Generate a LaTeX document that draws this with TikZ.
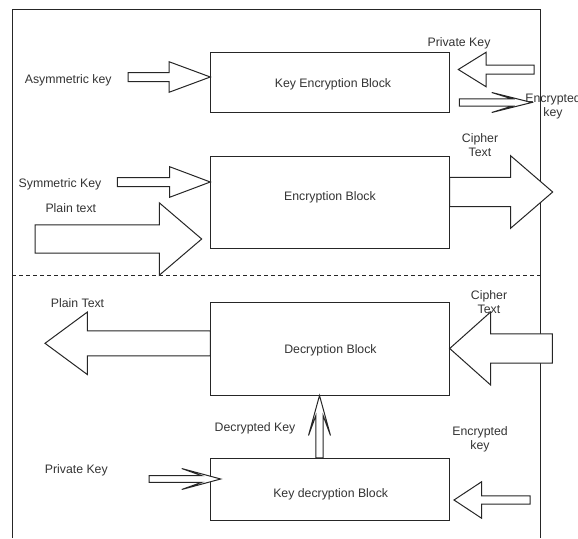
\documentclass[tikz,border=0pt]{standalone}
\usepackage{fontspec}
\setmainfont{Liberation Sans}
\usetikzlibrary{calc}

% Block arrow from tail #1 to tip #2:
% #3 shaft half width, #4 head half width, #5 head length,
% #6 distance from the tip at which the shaft meets the head
% (equal to #5 for a plain head, shorter for a swept-back head).
\newcommand\fatarrow[6]{%
  \coordinate (fa-neck) at ($(#2)!#6!(#1)$);
  \coordinate (fa-back) at ($(#2)!#5!(#1)$);
  \filldraw[arrowbody]
    ($(#1)!#3!90:(#2)$) --
    ($(fa-neck)!#3!90:(#2)$) --
    ($(fa-back)!#4!90:(#2)$) --
    (#2) --
    ($(fa-back)!#4!-90:(#2)$) --
    ($(fa-neck)!#3!-90:(#2)$) --
    ($(#1)!#3!-90:(#2)$) -- cycle;
}

\begin{document}
\begin{tikzpicture}[
  x=1pt, y=-1pt,
  outline/.style={draw=black!85, line width=1pt},
  box/.style={outline, rectangle, fill=white, inner sep=0pt, minimum width=238.4pt},
  arrowbody/.style={outline, fill=white},
  lbl/.style={text=black!80, font=\fontsize{12.3pt}{14.5pt}\selectfont, inner sep=0pt, align=center},
  oneline/.style={text height=8.8pt, text depth=0pt}
]
\useasboundingbox (0,0) rectangle (578,538);

% outer frame, open at the bottom
\draw[outline] (12,538) -- (12,9) -- (540,9) -- (540,538);
% separator between encryption and decryption halves
\draw[outline, dash pattern=on 4pt off 3pt] (12,275) -- (540,275);

% processing blocks
\node[box, minimum height=60pt]   (keb) at (330,82)    {};
\node[box, minimum height=92pt]   (eb)  at (330,202)   {};
\node[box, minimum height=93pt]   (db)  at (330,348.5) {};
\node[box, minimum height=61.7pt] (kdb) at (330,489.2) {};

% arrow ends
\coordinate (asymTail) at (128.2,77);
\coordinate (asymTip)  at ($(keb.west)+(0,-5)$);
\coordinate (pkTail)   at (534,69.5);
\coordinate (pkTip)    at (458.3,69.5);
\coordinate (ekTail)   at (459.3,102.5);
\coordinate (ekTip)    at (531.7,102.5);
\coordinate (symTail)  at (117.3,182);
\coordinate (symTip)   at ($(eb.west)+(0,-20)$);
\coordinate (ptTail)   at (35,239);
\coordinate (ptTip)    at (201.7,239);
\coordinate (ctTail)   at ($(eb.east)+(0,-10)$);
\coordinate (ctTip)    at (552.7,192);
\coordinate (poTail)   at ($(db.west)+(0,-5.2)$);
\coordinate (poTip)    at (45,343.3);
\coordinate (ciTail)   at (552.3,348.5);
\coordinate (ciTip)    at (db.east);
\coordinate (dkTail)   at ($(kdb.north)+(-10.5,0)$);
\coordinate (dkTip)    at ($(db.south)+(-10.5,0)$);
\coordinate (pk2Tail)  at (149,479);
\coordinate (pk2Tip)   at (220.7,479);
\coordinate (ek2Tail)  at (530,500);
\coordinate (ek2Tip)   at (454,500);

% block arrows
\fatarrow{asymTail}{asymTip}{4.5pt}{15.3pt}{41.3pt}{41.3pt}
\fatarrow{pkTail}{pkTip}{4.5pt}{17.2pt}{27.7pt}{27.7pt}
\fatarrow{ekTail}{ekTip}{3.7pt}{10pt}{40pt}{20pt}
\fatarrow{symTail}{symTip}{4.5pt}{15.3pt}{40.7pt}{40.7pt}
\fatarrow{ptTail}{ptTip}{14.2pt}{36.2pt}{42.4pt}{42.4pt}
\fatarrow{ctTail}{ctTip}{14.7pt}{36.2pt}{42pt}{42pt}
\fatarrow{poTail}{poTip}{12.5pt}{31.2pt}{42.3pt}{42.3pt}
\fatarrow{ciTail}{ciTip}{14.7pt}{36.4pt}{40.8pt}{40.8pt}
\fatarrow{dkTail}{dkTip}{3.6pt}{11pt}{40pt}{20pt}
\fatarrow{pk2Tail}{pk2Tip}{3.3pt}{10.5pt}{39pt}{19pt}
\fatarrow{ek2Tail}{ek2Tip}{4.2pt}{18.3pt}{27.7pt}{27.7pt}

% block titles
\node[lbl, oneline] (kebT) at ($(keb)+(3,1)$)      {Key Encryption Block};
\node[lbl, oneline] (ebT)  at ($(eb)+(0,-6.3)$)    {Encryption Block};
\node[lbl, oneline] (dbT)  at ($(db)+(0.5,0.5)$)   {Decryption Block};
\node[lbl, oneline] (kdbT) at ($(kdb)+(0.7,3.5)$)  {Key decryption Block};

% arrow labels
\node[lbl, oneline] (lAsym) at (68.2,79)   {Asymmetric key};
\node[lbl, oneline] (lPk)   at (459,41.7)  {Private Key};
\node[lbl]          (lEk)   at (553,106.5) {Encrypted\\key};
\node[lbl]          (lCt)   at (480,145)   {Cipher\\Text};
\node[lbl, oneline] (lSym)  at (60,182.7)  {Symmetric Key};
\node[lbl, oneline] (lPt)   at (70.8,208.3) {Plain text};
\node[lbl, oneline] (lPo)   at (77.5,302.7) {Plain Text};
\node[lbl]          (lCi)   at (489,302)   {Cipher\\Text};
\node[lbl, oneline] (lDk)   at (255,427.5) {Decrypted Key};
\node[lbl]          (lEk2)  at (480,439.5) {Encrypted\\key};
\node[lbl, oneline] (lPk2)  at (76.3,469.3) {Private Key};
\end{tikzpicture}
\end{document}
